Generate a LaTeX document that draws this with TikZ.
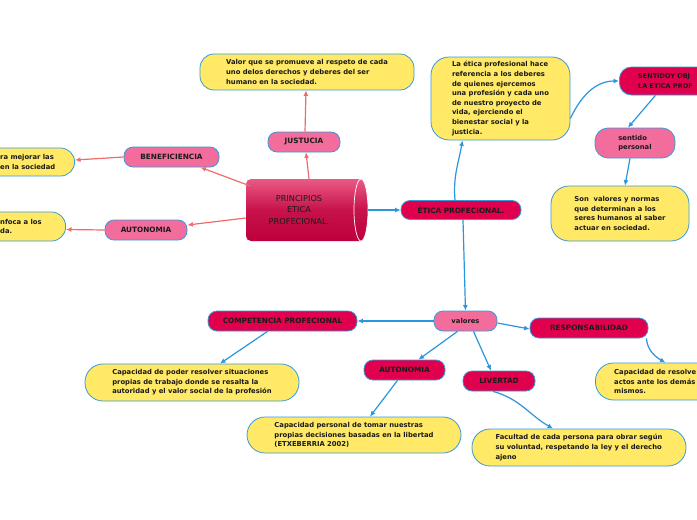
\documentclass[tikz,border=0pt]{standalone}
\usepackage{fontspec}
\setmainfont{DejaVu Sans}
\usetikzlibrary{arrows.meta}
\definecolor{cYel}{HTML}{FFE966}
\definecolor{cLine}{HTML}{3A9AD9}
\definecolor{cPink}{HTML}{F26C9C}
\definecolor{cCrim}{HTML}{E0004D}
\definecolor{cSalm}{HTML}{F26B6B}
\definecolor{cBlue}{HTML}{2A96DE}
\definecolor{cTxt}{HTML}{1A1A1A}
\definecolor{cCylTop}{HTML}{EA5A85}
\definecolor{cCylBot}{HTML}{BE003C}
\tikzset{
 basebox/.style={draw=cLine, line width=0.8pt, font=\bfseries\fontsize{6.8}{9.6}\selectfont, text=cTxt, inner sep=0pt, align=left},
 yelbox/.style={basebox, fill=cYel, rounded corners=14pt},
 pinkbox/.style={basebox, fill=cPink, rounded corners=9pt},
 crimbox/.style={basebox, fill=cCrim, rounded corners=9pt},
 capsfont/.style={font=\bfseries\fontsize{7.3}{9.6}\selectfont},
 plaintext/.style={font=\bfseries\fontsize{6.8}{9.6}\selectfont, text=cTxt, inner sep=0pt, align=left},
 redarr/.style={draw=cSalm, line width=1.2pt, -{Latex[length=5.5pt,width=5pt]}},
 bluearr/.style={draw=cBlue, line width=1.2pt, -{Latex[length=5.5pt,width=5pt]}}
}
\begin{document}
\begin{tikzpicture}[x=1pt,y=1pt]
\useasboundingbox[fill=white] (0,0) rectangle (697,-520);

% central cylinder
\shade[top color=cCylTop, bottom color=cCylBot, middle color=cCylBot!80!cCylTop] [rounded corners=5] (361,-179) -- (246,-179) -- (246,-241) -- (361,-241);
\shade[top color=cCylTop, bottom color=cCylBot, middle color=cCylBot!80!cCylTop] (361,-210) ellipse[x radius=7, y radius=31];
\draw[white, line width=0.7pt] (361,-210) ellipse[x radius=7, y radius=31];
\node[minimum width=122pt, minimum height=62pt, inner sep=0pt] (c) at (307,-210) {};
\node[font=\fontsize{8.2}{11.8}\selectfont, text=cTxt, align=center, inner sep=0pt] (ctext) at (299,-210) {PRINCIPIOS\\ETICA\\PROFECIONAL.};

% left branch
\node[pinkbox, capsfont, minimum width=72pt, minimum height=20pt] (just) at (304,-142) {JUSTUCIA};
\node[yelbox, minimum width=214pt, minimum height=36pt] (jtxt) at (307,-72) {Valor que se promueve al respeto de cada\\uno delos derechos y deberes del ser\\humano en la sociedad.};
\node[pinkbox, capsfont, minimum width=95pt, minimum height=20pt] (benef) at (171.5,-157) {BENEFICIENCIA};
\node[yelbox, minimum width=150pt, minimum height=28pt, anchor=east] (benbox) at (75,-162) {};
\node[plaintext, anchor=west] (bentext) at (0,-162) {ra mejorar las\\en la sociedad};
\node[pinkbox, capsfont, minimum width=82pt, minimum height=20pt] (autL) at (146,-230) {AUTONOMIA};
\node[yelbox, minimum width=150pt, minimum height=29pt, anchor=east] (autbox) at (66,-226.5) {};
\node[plaintext, anchor=west] (auttext) at (0,-226.5) {nfoca a los\\da.};

% right branch
\node[crimbox, capsfont, minimum width=120pt, minimum height=19pt] (eti) at (461,-210) {ÉTICA PROFECIONAL.};
\node[yelbox, rounded corners=18pt, minimum width=139pt, minimum height=83pt] (etxt) at (500.5,-98.5) {La ética profesional hace\\referencia a los deberes\\de quienes ejercemos\\una profesión y cada uno\\de nuestro proyecto de\\vida, ejerciendo el\\bienestar social y la\\justicia.};
\node[crimbox, rounded corners=12pt, minimum width=120pt, minimum height=28pt, anchor=west] (sob) at (619,-81) {};
\node[plaintext, font=\bfseries\fontsize{6.5}{9.6}\selectfont, anchor=west] (sobtext) at (638,-81) {SENTIDOY OBJ\\LA ETICA PROF};
\node[pinkbox, rounded corners=13pt, minimum width=80pt, minimum height=30pt] (sent) at (635,-143) {sentido\\personal};
\node[yelbox, rounded corners=18pt, minimum width=138pt, minimum height=55pt] (son) at (620,-213.5) {Son\ \ valores y normas\\que determinan a los\\seres humanos al saber\\actuar en sociedad.};

\node[pinkbox, minimum width=63pt, minimum height=20pt] (val) at (465.5,-321) {valores};
\node[crimbox, capsfont, minimum width=149pt, minimum height=20pt] (comp) at (282.5,-321) {COMPETENCIA PROFECIONAL};
\node[yelbox, rounded corners=18pt, minimum width=214pt, minimum height=37pt] (cap1) at (192,-382.5) {Capacidad de poder resolver situaciones\\propias de trabajo donde se resalta la\\autoridad y el valor social de la profesión};
\node[crimbox, capsfont, minimum width=81pt, minimum height=20pt] (autLow) at (404.5,-370) {AUTONOMIA};
\node[yelbox, rounded corners=18pt, minimum width=214pt, minimum height=36pt] (cap2) at (354,-435) {Capacidad personal de tomar nuestras\\propias decisiones basadas en la libertad\\(ETXEBERRIA 2002)};
\node[crimbox, capsfont, minimum width=72pt, minimum height=20pt] (liv) at (499,-381) {LIVERTAD};
\node[yelbox, rounded corners=18pt, minimum width=214pt, minimum height=37pt] (fac) at (579,-447.5) {Facultad de cada persona para obrar según\\su voluntad, respetando la ley y el derecho\\ajeno};
\node[crimbox, capsfont, minimum width=118pt, minimum height=20pt] (resp) at (589,-328) {RESPONSABILIDAD};
\node[yelbox, rounded corners=18pt, minimum width=130pt, minimum height=37pt, anchor=west] (resbox) at (595,-381.5) {};
\node[plaintext, anchor=west] (restext) at (614,-381.5) {Capacidad de resolve\\actos ante los demás\\mismos.};

% red connectors
\draw[redarr] ([xshift=2pt]c.north) -- ([xshift=2pt]just.south);
\draw[redarr] ([xshift=1pt]just.north) -- ([xshift=-1pt]jtxt.south);
\draw[redarr] ([shift={(4,-7)}]c.north west) -- ([xshift=29pt]benef.south);
\draw[redarr] (benef.west) -- ([yshift=2pt]benbox.east);
\draw[redarr] ([yshift=-8pt]c.west) -- ([yshift=5pt]autL.east);
\draw[redarr] (autL.west) -- ([yshift=-3pt]autbox.east);

% blue connectors
\draw[bluearr] (c.east) -- (eti.west);
\draw[bluearr] ([xshift=-6pt]eti.north) to[out=95,in=-100] ([xshift=-38pt]etxt.south);
\draw[bluearr] ([yshift=-20pt]etxt.east) to[out=65,in=180] (sob.west);
\draw[bluearr] ([xshift=-24pt]sob.south) -- ([xshift=-7pt]sent.north);
\draw[bluearr] ([xshift=-5pt]sent.south) -- ([xshift=5pt]son.north);
\draw[bluearr] ([xshift=2pt]eti.south) -- (val.north);
\draw[bluearr] (val.west) -- (comp.east);
\draw[bluearr] ([xshift=-15pt]comp.south) -- ([xshift=28pt]cap1.north);
\draw[bluearr] ([xshift=-8pt]val.south) -- ([xshift=14pt]autLow.north);
\draw[bluearr] ([xshift=8pt]val.south) -- ([xshift=-8pt]liv.north);
\draw[bluearr] ([yshift=-2pt]val.east) -- ([yshift=-1pt]resp.west);
\draw[bluearr] ([xshift=-2pt]resp.south east) to[out=-85,in=150] ([xshift=5pt]resbox.north);
\draw[bluearr] ([xshift=-7pt]autLow.south) -- ([xshift=16pt]cap2.north);
\draw[bluearr] ([xshift=-6pt]liv.south) to[out=-15,in=150] ([xshift=-26pt]fac.north);
\end{tikzpicture}
\end{document}
